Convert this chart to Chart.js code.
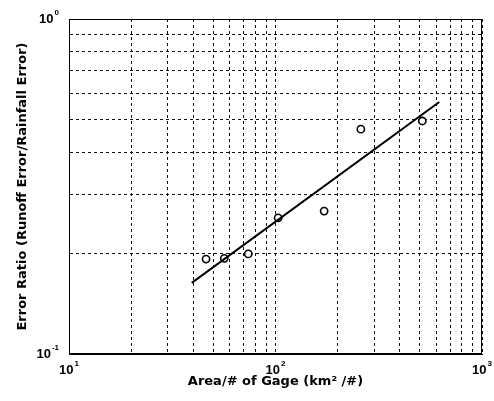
<!DOCTYPE html>
<html>
<head>
<meta charset="utf-8">
<script src="https://cdn.jsdelivr.net/npm/chart.js@4/dist/chart.umd.min.js"></script>
<style>
  html, body { margin: 0; padding: 0; background: #fff; }
  #wrap { width: 494px; height: 401px; }
</style>
</head>
<body>
<div id="wrap"><canvas id="c" width="494" height="401"></canvas></div>
<script>
// Observed error ratio against basin area per rain gage
const areaPerGage = [46.1, 56.5, 73.8, 103, 172, 259, 514];
const errorRatio  = [0.192, 0.193, 0.199, 0.255, 0.267, 0.469, 0.496];

// Fitted power-law line (end points)
const fitArea  = [39.3, 621];
const fitRatio = [0.163, 0.565];

// Axis limits and labelled decades
const xLimits = [10, 1000];
const yLimits = [0.1, 1];
const xTickLabels = [10, 100, 1000];
const yTickLabels = [0.1, 1];

const TICK_FONT = '"Liberation Sans", Arial, Helvetica, sans-serif';
const TITLE_FONT = '"DejaVu Sans", Verdana, sans-serif';

// every 1..9 x 10^n between the limits, used for the dashed grid
function decadeTicks(min, max) {
  const out = [];
  for (let e = Math.floor(Math.log10(min)); e <= Math.ceil(Math.log10(max)); e++) {
    for (let m = 1; m <= 9; m++) {
      const v = +(m * Math.pow(10, e)).toPrecision(6);
      if (v >= min - 1e-12 && v <= max + 1e-12) out.push({ value: v });
    }
  }
  return out;
}

// "10" with a raised exponent
function drawPower(ctx, x, y, value, align) {
  const exp = String(Math.round(Math.log10(value)));
  ctx.font = 'bold 13px ' + TICK_FONT;
  const wBase = ctx.measureText('10').width;
  ctx.font = 'bold 8px ' + TICK_FONT;
  const wExp = ctx.measureText(exp).width;
  const total = wBase + 1 + wExp;
  const x0 = align === 'right' ? x - total : x - total / 2;
  ctx.textAlign = 'left';
  ctx.textBaseline = 'middle';
  ctx.font = 'bold 13px ' + TICK_FONT;
  ctx.fillText('10', x0, y);
  ctx.font = 'bold 8px ' + TICK_FONT;
  ctx.fillText(exp, x0 + wBase + 1, y - 6);
}

const frameAndLabels = {
  id: 'frameAndLabels',
  beforeDraw(chart) {
    const ctx = chart.ctx;
    ctx.save();
    ctx.fillStyle = '#fff';
    ctx.fillRect(0, 0, chart.width, chart.height);
    ctx.restore();
  },
  afterDatasetsDraw(chart) {
    const { ctx, chartArea: a, scales } = chart;
    ctx.save();
    ctx.strokeStyle = '#000';
    ctx.lineWidth = 1;
    ctx.setLineDash([]);
    ctx.strokeRect(Math.round(a.left) + 0.5, Math.round(a.top) + 0.5,
                   Math.round(a.right - a.left) - 1, Math.round(a.bottom - a.top) - 1);
    ctx.fillStyle = '#000';
    yTickLabels.forEach(v => {
      drawPower(ctx, a.left - 10, scales.y.getPixelForValue(v), v, 'right');
    });
    xTickLabels.forEach(v => {
      drawPower(ctx, scales.x.getPixelForValue(v), a.bottom + 16, v, 'center');
    });
    ctx.restore();
  }
};

new Chart(document.getElementById('c'), {
  type: 'scatter',
  data: {
    datasets: [
      {
        label: 'fit',
        data: fitArea.map((x, i) => ({ x, y: fitRatio[i] })),
        showLine: true,
        borderColor: '#000',
        borderWidth: 2,
        pointRadius: 0,
        fill: false
      },
      {
        label: 'observed',
        data: areaPerGage.map((x, i) => ({ x, y: errorRatio[i] })),
        showLine: false,
        pointStyle: 'circle',
        pointRadius: 3.6,
        borderWidth: 1.6,
        borderColor: '#000',
        backgroundColor: '#fff'
      }
    ]
  },
  options: {
    responsive: false,
    animation: false,
    devicePixelRatio: 1,
    layout: { padding: { left: 0, right: 12, top: 19, bottom: 0 } },
    plugins: {
      legend: { display: false },
      tooltip: { enabled: false }
    },
    scales: {
      x: {
        type: 'logarithmic',
        min: xLimits[0],
        max: xLimits[1],
        afterBuildTicks: s => { s.ticks = decadeTicks(xLimits[0], xLimits[1]); },
        afterFit: s => { s.height = 47; },
        ticks: { display: false },
        grid: { color: '#111', lineWidth: 1, drawTicks: false },
        border: { display: true, color: '#000', width: 1, dash: [3, 3] },
        title: {
          display: true,
          text: 'Area/# of Gage (km² /#)',
          color: '#000',
          font: { family: TITLE_FONT, size: 13, weight: 'bold' },
          padding: { top: 0, bottom: 12 }
        }
      },
      y: {
        type: 'logarithmic',
        min: yLimits[0],
        max: yLimits[1],
        afterBuildTicks: s => { s.ticks = decadeTicks(yLimits[0], yLimits[1]); },
        afterFit: s => { s.width = 69; },
        ticks: { display: false },
        grid: { color: '#111', lineWidth: 1, drawTicks: false },
        border: { display: true, color: '#000', width: 1, dash: [3, 3] },
        title: {
          display: true,
          text: 'Error Ratio (Runoff Error/Rainfall Error)',
          color: '#000',
          font: { family: TITLE_FONT, size: 13, weight: 'bold' },
          padding: { top: 15, bottom: 0 }
        }
      }
    }
  },
  plugins: [frameAndLabels]
});
</script>
</body>
</html>
